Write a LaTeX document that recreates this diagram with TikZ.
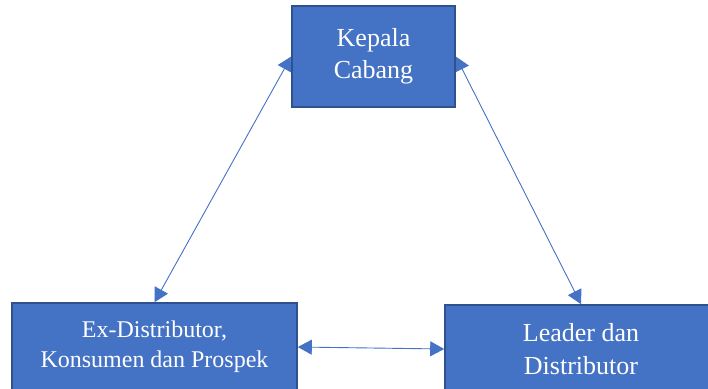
\documentclass[tikz,border=0pt]{standalone}
\usepackage{fontspec}
\setmainfont{Liberation Serif}
\usetikzlibrary{arrows.meta,backgrounds}
\definecolor{boxblue}{HTML}{4472C4}
\definecolor{boxedge}{HTML}{2F528F}

\begin{document}
\begin{tikzpicture}[x=1pt,y=-1pt,
  box/.style={draw=boxedge, line width=1.6pt, fill=boxblue, text=white, align=center, inner sep=0pt},
  link/.style={draw=boxblue, line width=0.9pt, {Triangle[length=14pt,width=15pt]}-{Triangle[length=14pt,width=15pt]}}]

\useasboundingbox (0,0) rectangle (708,388);

% draw boxes
\node (kepala) [box, minimum width=163pt, minimum height=101pt, font=\fontsize{26}{32}\selectfont] at (373.5,56.5) {Kepala\\Cabang};
\node (exdist) [box, minimum width=285pt, minimum height=88pt, font=\fontsize{24}{30}\selectfont] at (154.5,347) {Ex-Distributor,\\Konsumen dan Prospek};
\node (leader) [box, minimum width=272pt, minimum height=88pt, font=\fontsize{26}{33}\selectfont] at (581,349) {Leader dan\\Distributor};

% draw connectors behind the boxes
\begin{scope}[on background layer]
\draw [link] (kepala.west) -- (exdist.north);
\draw [link] (kepala.east) -- (leader.north);
\draw [link] (exdist.east) -- (leader.west);
\end{scope}

\end{tikzpicture}
\end{document}
